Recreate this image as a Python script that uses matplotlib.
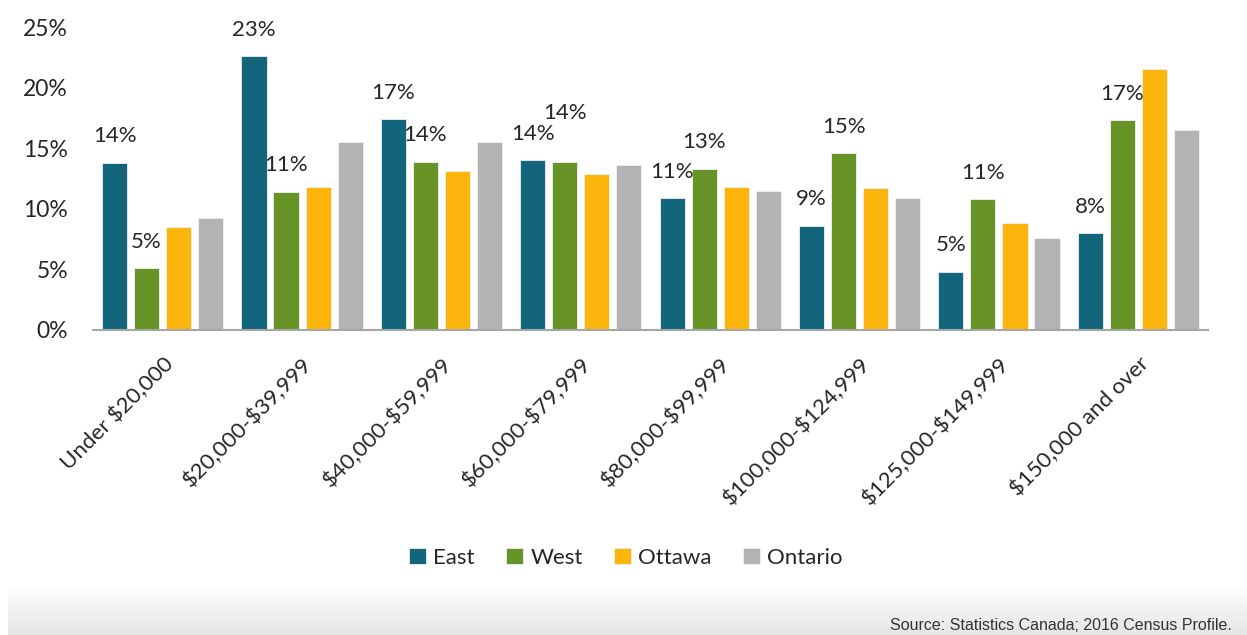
import numpy as np
import matplotlib
matplotlib.use('Agg')
import matplotlib.pyplot as plt

# income brackets and share of households (%)
categories = ['Under $20,000', '$20,000-$39,999', '$40,000-$59,999', '$60,000-$79,999',
              '$80,000-$99,999', '$100,000-$124,999', '$125,000-$149,999', '$150,000 and over']
east = [13.8, 22.6, 17.4, 14.0, 10.9, 8.6, 4.8, 8.0]
west = [5.1, 11.4, 13.9, 13.9, 13.3, 14.6, 10.8, 17.3]
ottawa = [8.5, 11.8, 13.1, 12.9, 11.8, 11.7, 8.8, 21.5]
ontario = [9.2, 15.5, 15.5, 13.6, 11.5, 10.9, 7.6, 16.5]
series_names = ['East', 'West', 'Ottawa', 'Ontario']
yticks = [0, 5, 10, 15, 20, 25]

colors = ['#12657a', '#689327', '#fcb50c', '#b3b3b3']

plt.rcParams['font.family'] = ['Lato', 'DejaVu Sans']
plt.rcParams['text.parse_math'] = False  # the $ signs are literal
fig = plt.figure(figsize=(12.47, 6.35), dpi=100)

# light grey gradient strip along the bottom of the slide
bg = fig.add_axes([8 / 1247, 0, 1, 50 / 635])
shade = np.linspace(1.0, 0.9, 100).reshape(-1, 1, 1) * np.ones((1, 1, 3))
bg.imshow(shade, aspect='auto', extent=[0, 1, 0, 1])
bg.axis('off')

ax = fig.add_axes([93 / 1247, 305 / 635, 1115 / 1247, 303 / 635])
x = np.arange(len(categories))
width = 0.18
step = 0.23
all_series = [east, west, ottawa, ontario]
bars = []
for i, vals in enumerate(all_series):
    b = ax.bar(x + (i - 1.5) * step, vals, width, color=colors[i], label=series_names[i],
               edgecolor='#eef2f2', linewidth=0.6, zorder=2)
    bars.append(b)

# data labels only on East and West, as in the original
for s in range(2):
    for j, rect in enumerate(bars[s]):
        h = rect.get_height()
        off = 19
        if s == 1 and j == 3:
            off = 35  # nudged up to clear the East label
        ax.annotate('{:.0f}%'.format(h), (rect.get_x() + rect.get_width() / 2, h),
                    xytext=(0, off), textcoords='offset points',
                    ha='center', va='center', fontsize=16, color='#262626')

ax.set_xlim(-0.5, len(categories) - 0.5)
ax.set_ylim(0, 25)
ax.set_yticks(yticks)
ax.set_yticklabels(['{}%'.format(t) for t in yticks], fontsize=16.5, color='#262626')
ax.set_xticks(x)
ax.set_xticklabels(categories, rotation=45, ha='right', rotation_mode='anchor',
                   fontsize=16, color='#262626')
ax.tick_params(axis='y', length=0, pad=18)
ax.tick_params(axis='x', length=0, pad=17)
for side in ['top', 'right', 'left']:
    ax.spines[side].set_visible(False)
ax.spines['bottom'].set_color('#a6a6a6')
ax.spines['bottom'].set_linewidth(1.5)

fig.legend(loc='center', bbox_to_anchor=(626 / 1247, 1 - 558 / 635), ncol=4, frameon=False,
           fontsize=16, handlelength=0.75, handleheight=0.75, handletextpad=0.35,
           columnspacing=1.4, labelcolor='#262626')

fig.text(1232 / 1247, 1 - 625 / 635, 'Source: Statistics Canada; 2016 Census Profile.',
         ha='right', va='center', fontsize=11.5, family='Liberation Sans', color='#333333')

plt.savefig('out.png', dpi=100)
